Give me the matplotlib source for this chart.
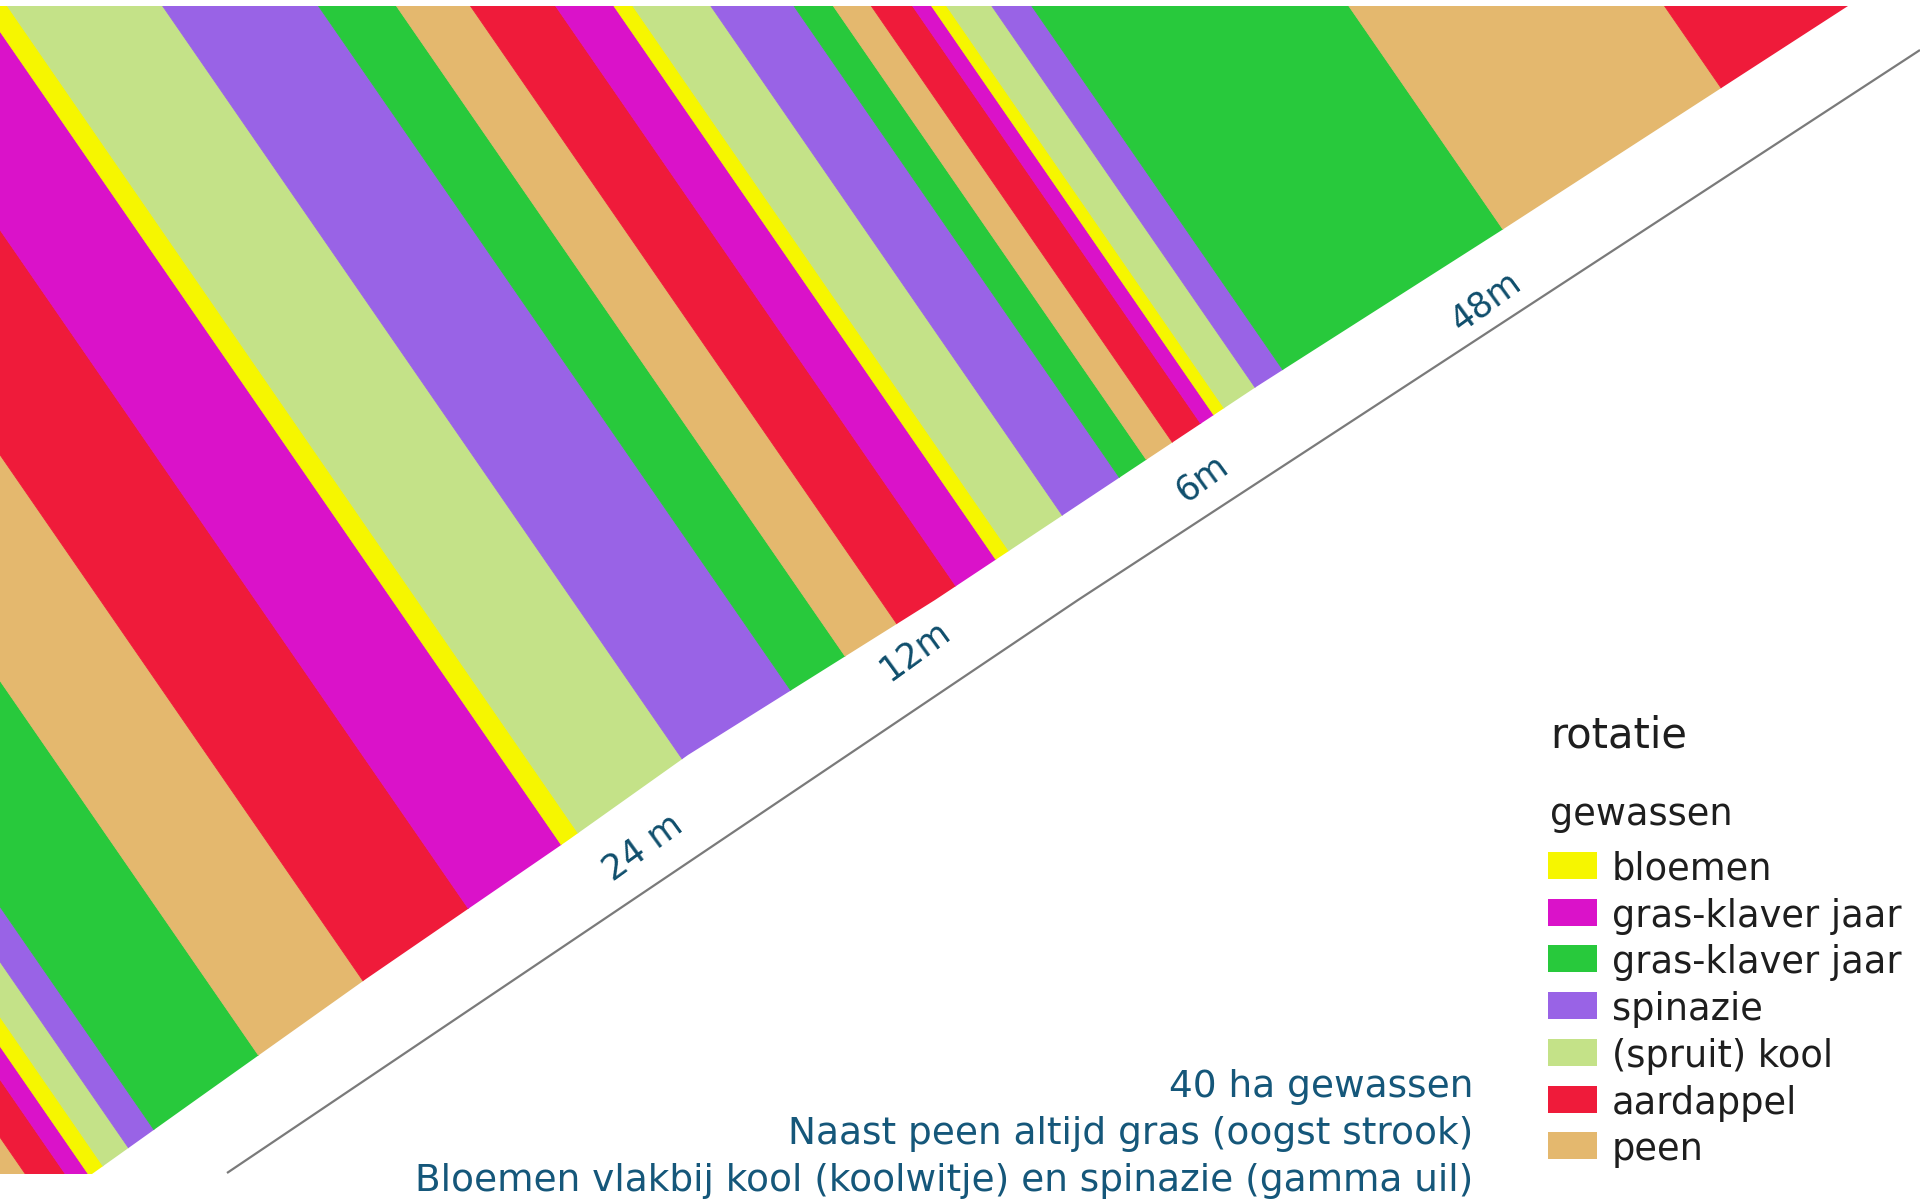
import matplotlib
matplotlib.use('Agg')
import matplotlib.pyplot as plt
from matplotlib.patches import Polygon, Rectangle
from matplotlib.transforms import Affine2D
import numpy as np

# legend: crop keys, labels, colours
crop_keys = ['bloemen', 'gk_paars', 'gk_groen', 'spinazie', 'kool', 'aardappel', 'peen']
crop_labels = ['bloemen', 'gras-klaver jaar', 'gras-klaver jaar', 'spinazie',
               '(spruit) kool', 'aardappel', 'peen']
crop_colors = ['#f6f600', '#da12c9', '#28c93c', '#9963e6', '#c4e288', '#ef1b3a', '#e4b86e']

# strips from left to right, widths in metres
strip_crops = ['peen', 'aardappel', 'gk_paars', 'bloemen', 'kool', 'spinazie',
               'gk_groen', 'peen', 'aardappel', 'gk_paars', 'bloemen', 'kool', 'spinazie',
               'gk_groen', 'peen', 'aardappel', 'gk_paars', 'bloemen', 'kool', 'spinazie',
               'gk_groen', 'peen', 'aardappel', 'gk_paars', 'bloemen', 'kool', 'spinazie',
               'gk_groen', 'peen', 'aardappel']
strip_widths = [6.0, 6.1, 3.5, 3.1, 5.8, 5.8,
                23.8, 23.8, 23.7, 20.9, 3.8, 23.7, 23.8,
                11.9, 11.3, 13.0, 8.9, 2.9, 11.9, 12.7,
                6.0, 5.8, 6.3, 2.9, 2.3, 6.9, 6.1,
                48.4, 48.2, 48.0]

width_labels = ['24 m', '12m', '6m', '48m']

notes = ['40 ha gewassen',
         'Naast peen altijd gras (oogst strook)',
         'Bloemen vlakbij kool (koolwitje) en spinazie (gamma uil)']

# layout (pixels)
W, H = 1920, 1200
PX_PER_M = 6.55
START_U = -824
SLANT = 0.69
field_pts = [(0, 6), (1848, 6), (1502, 230), (1256, 387), (935, 600),
             (688, 755), (567, 841), (366, 979), (200, 1097), (92, 1174), (0, 1174)]
line_pts = [(227, 1173), (1078, 600), (1920, 50)]
label_pos = [(643, 848), (915, 651), (1202, 478), (1486, 302)]

fig = plt.figure(figsize=(W / 100, H / 100), dpi=100)
ax = fig.add_axes([0, 0, 1, 1])
ax.set_xlim(0, W)
ax.set_ylim(H, 0)
ax.axis('off')

color_of = dict(zip(crop_keys, crop_colors))
widths_px = np.array(strip_widths) * PX_PER_M
lefts = START_U + np.concatenate([[0], np.cumsum(widths_px)[:-1]])
colors = [color_of[c] for c in strip_crops]

shear = Affine2D(np.array([[1, SLANT, 0], [0, 1, 0], [0, 0, 1]])) + ax.transData
field = Polygon(field_pts, closed=True, facecolor='none', edgecolor='none')
ax.add_patch(field)
bars = ax.bar(lefts, H, width=widths_px, bottom=0, align='edge', color=colors,
              edgecolor=colors, linewidth=0.6, transform=shear)
for b in bars:
    b.set_clip_path(field)

lx, ly = zip(*line_pts)
ax.plot(lx, ly, color='#7a7a7a', lw=1.6, solid_capstyle='butt')

for txt, (x, y) in zip(width_labels, label_pos):
    ax.text(x, y, txt, rotation=36, ha='center', va='center', fontsize=25,
            color='#0f4e6c', rotation_mode='anchor')

for i, txt in enumerate(notes):
    ax.text(1473, 1097 + 47 * i, txt, ha='right', va='baseline', fontsize=27,
            color='#15577a')

# legend
ax.text(1550, 748, 'rotatie', fontsize=30, color='#1e1e1e', va='baseline')
ax.text(1550, 825, 'gewassen', fontsize=26.5, color='#1e1e1e', va='baseline')
for i, (lab, col) in enumerate(zip(crop_labels, crop_colors)):
    y0 = 852 + 46.7 * i
    ax.add_patch(Rectangle((1548, y0), 49, 27, facecolor=col, edgecolor='none'))
    ax.text(1612, y0 + 28, lab, fontsize=26.5, color='#1e1e1e', va='baseline')

fig.savefig('out.png', dpi=100, facecolor='white')
